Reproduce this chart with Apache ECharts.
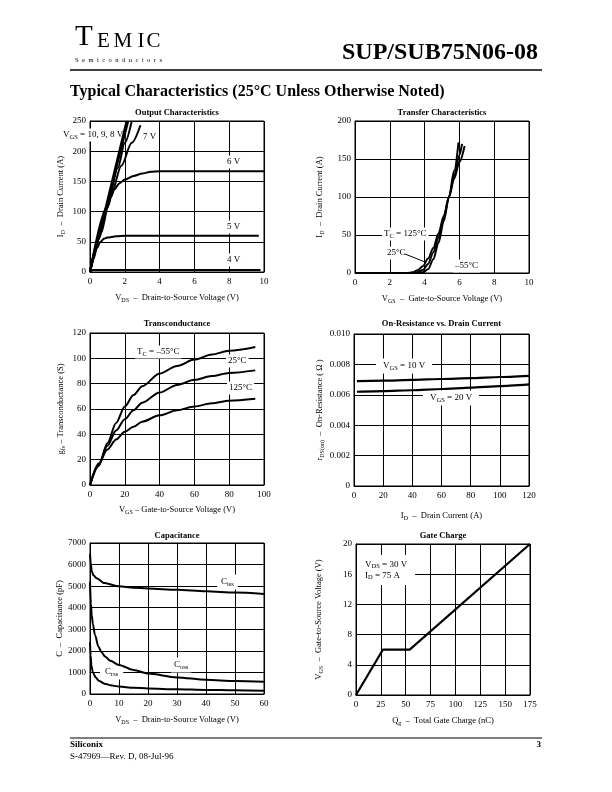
<!DOCTYPE html>
<html><head><meta charset="utf-8">
<script src="https://cdn.jsdelivr.net/npm/echarts@6/dist/echarts.min.js"></script>
<style>html,body{margin:0;padding:0;background:#fff}#c{width:612px;height:792px}</style>
</head><body><div id="c"></div>
<script>
const FONT = '"Liberation Serif","Times New Roman",serif';

// ---- Output Characteristics: [VDS (V), ID (A)]
const out10V = [[0,0],[1,119],[2.1,250]];
const out9V  = [[0,0],[1,114],[2.2,250]];
const out8V  = [[0,0],[1,109],[1.6,172],[2.0,214],[2.4,250]];
const out7V  = [[0,0],[0.6,64],[1.2,126],[1.8,176],[2.4,214],[2.9,243]];
const out6V  = [[0,0],[0.5,54],[1,106],[1.2,124],[1.4,137],[1.7,147],[2,153],[2.5,159],[3,163],[3.5,166],[4,167],[6,167],[8,167],[10,167]];
const out5V  = [[0,0],[0.2,22],[0.4,40],[0.6,50],[0.8,55],[1.0,57],[1.5,59],[2,60],[4,60],[6,60],[8,60],[9.7,60]];
const out4V  = [[0,0],[0.1,3],[0.3,3.5],[5,3.5],[9.8,3.5]];

// ---- Transfer Characteristics: [VGS (V), ID (A)]
const tr125C = [[0,0],[3.0,0],[3.3,1],[3.6,3.5],[3.9,9],[4.2,19],[4.5,33],[4.8,52],[5.1,75],[5.4,100],[5.7,124],[6.0,146],[6.3,167]];
const tr25C  = [[0,0],[3.3,0],[3.6,1],[3.9,4],[4.2,12],[4.5,27],[4.8,47],[5.1,72],[5.4,100],[5.7,128],[6.0,155],[6.15,170]];
const trM55C = [[0,0],[3.6,0],[3.9,1],[4.2,5],[4.5,18],[4.8,40],[5.1,68],[5.4,100],[5.7,135],[5.95,172]];

// ---- Transconductance: [VGS (V), gfs (S)]
const gfsM55C = [[0,0],[5,15],[10,33],[15,49],[20,62],[25,71],[30,78],[40,88],[50,94],[60,99],[70,103],[80,106],[95,109]];
const gfs25C  = [[0,0],[5,16],[10,31],[15,43],[20,52],[25,59],[30,65],[40,73],[50,79],[60,83],[70,86],[80,88.5],[95,90.5]];
const gfs125C = [[0,0],[5,17],[10,28],[15,36],[20,42],[25,46],[30,50],[40,55],[50,59],[60,62],[70,64.5],[80,66.5],[95,68]];

// ---- On-Resistance vs Drain Current: [ID (A), rDS(on) (ohm)]
const ron10V = [[2,0.0069],[20,0.00693],[40,0.00698],[60,0.00704],[80,0.0071],[100,0.00717],[120,0.00725]];
const ron20V = [[2,0.0062],[20,0.00624],[40,0.0063],[60,0.00638],[80,0.00647],[100,0.00657],[120,0.00668]];

// ---- Capacitance: [VDS (V), C (pF)]
const capCiss = [[0,6500],[0.3,6000],[0.6,5700],[1.2,5500],[2.3,5370],[5,5140],[10,4990],[15,4930],[20,4890],[30,4830],[40,4760],[50,4700],[60,4640]];
const capCoss = [[0,5200],[0.3,4200],[0.6,3650],[1,3250],[1.7,2750],[2.9,2200],[4,1930],[5.2,1740],[7,1540],[10,1350],[15,1110],[20,950],[30,770],[40,660],[50,600],[60,570]];
const capCrss = [[0,2400],[0.2,1800],[0.5,1300],[1,1000],[2,760],[3,620],[5,480],[7,410],[10,345],[15,290],[20,255],[30,218],[40,190],[50,170],[60,156]];

// ---- Gate Charge: [Qg (nC), VGS (V)]
const gateCharge = [[0,0],[27,6],[54,6],[175,20]];

// ---- Axis ranges / tick steps
const axes = [
  {x:[0,10,2],   y:[0,250,50]},
  {x:[0,10,2],   y:[0,200,50]},
  {x:[0,100,20], y:[0,120,20]},
  {x:[0,120,20], y:[0,0.010,0.002]},
  {x:[0,60,10],  y:[0,7000,1000]},
  {x:[0,175,25], y:[0,20,4]}
];
const titles = ['Output Characteristics','Transfer Characteristics','Transconductance','On-Resistance vs. Drain Current','Capacitance','Gate Charge'];
const xNames = [
  '{n|V}{s|DS}{n|  –  Drain-to-Source Voltage (V)}',
  '{n|V}{s|GS}{n|  –  Gate-to-Source Voltage (V)}',
  '{n|V}{s|GS}{n| – Gate-to-Source Voltage (V)}',
  '{n|I}{s|D}{n|  –  Drain Current (A)}',
  '{n|V}{s|DS}{n|  –  Drain-to-Source Voltage (V)}',
  '{n|Q}{s|g}{n|  –  Total Gate Charge (nC)}'
];
const yNames = [
  '{n|I}{s|D}{n|  –  Drain Current (A)}',
  '{n|I}{s|D}{n|  –  Drain Current (A)}',
  '{n|g}{s|fs}{n| – Transconductance (S)}',
  '{n|r}{s|DS(on)}{n|  –  On-Resistance ( Ω )}',
  '{n|C  –  Capacitance (pF)}',
  '{n|V}{s|GS}{n|  –  Gate-to-Source Voltage (V)}'
];

// layout
const grids = [
  {left:90,  top:121, width:174, height:151},
  {left:355, top:121, width:174, height:152},
  {left:90,  top:333, width:174, height:152},
  {left:354, top:334, width:175, height:152},
  {left:90,  top:543, width:174, height:151},
  {left:356, top:544, width:174, height:151}
];
const xGaps = [20,20,19,24,20,20];
const yGaps = [24,30,24,29,25,32];

const RICH = {
  n:{fontFamily:FONT, fontSize:8.5, lineHeight:11, color:'#000'},
  s:{fontFamily:FONT, fontSize:6, lineHeight:7, color:'#000', verticalAlign:'bottom'}
};
const RICH9 = {
  n:{fontFamily:FONT, fontSize:9, lineHeight:11, color:'#000'},
  s:{fontFamily:FONT, fontSize:6.5, lineHeight:7, color:'#000', verticalAlign:'bottom'}
};

const black = '#000';
const xAxis = [], yAxis = [];
axes.forEach((a,i)=>{
  const base = {
    type:'value', gridIndex:i,
    axisLine:{show:true, onZero:false, lineStyle:{color:black, width:1}},
    axisTick:{show:false},
    splitLine:{show:true, lineStyle:{color:black, width:1}},
    nameLocation:'middle',
    nameTextStyle:{fontFamily:FONT, fontSize:8.5, color:black, rich:RICH}
  };
  xAxis.push(Object.assign({}, base, {
    min:a.x[0], max:a.x[1], interval:a.x[2], name:xNames[i], nameGap:xGaps[i],
    axisLabel:{color:black, fontFamily:FONT, fontSize:9, margin:5}
  }));
  yAxis.push(Object.assign({}, base, {
    min:a.y[0], max:a.y[1], interval:a.y[2], name:yNames[i], nameGap:yGaps[i], nameRotate:90,
    axisLabel:{color:black, fontFamily:FONT, fontSize:9, margin:4,
      formatter: i===3 ? (v => v===0 ? '0' : v.toFixed(3)) : (v => String(v))}
  }));
});

function line(data, gi, smooth, w) {
  return {type:'line', xAxisIndex:gi, yAxisIndex:gi, data, showSymbol:false, symbol:'none',
    smooth: smooth, smoothMonotone:'x', silent:true, animation:false, clip:true,
    lineStyle:{color:black, width:w||2}};
}
const series = [
  line(out10V,0,false), line(out9V,0,false), line(out8V,0,0.3), line(out7V,0,0.3),
  line(out6V,0,0.3), line(out5V,0,0.3), line(out4V,0,0.2),
  line(tr125C,1,0.3), line(tr25C,1,0.3), line(trM55C,1,0.3),
  line(gfsM55C,2,0.3), line(gfs25C,2,0.3), line(gfs125C,2,0.3),
  line(ron10V,3,0.2,2.2), line(ron20V,3,0.2,2.2),
  line(capCiss,4,0.3), line(capCoss,4,0.3), line(capCrss,4,0.3),
  line(gateCharge,5,false,2.2)
];

// ---- graphic texts
const G = [];
function txt(x, y, text, o) {
  o = o || {};
  G.push({type:'text', x, y, z: o.z || 1, silent:true, style:{
    text, fill:black, font:(o.bold?'bold ':'') + (o.size||9) + 'px ' + FONT,
    align:o.align||'left', verticalAlign:o.va||'middle',
    backgroundColor:o.bg||null, padding:o.pad||0, rich:o.rich
  }});
}
function ann(x, y, text, pad) { txt(x, y, text, {bg:'#fff', pad:pad||[1,2], rich:RICH9}); }

// header
const temic = [['T',75,29],['E',97,21],['M',113.5,21],['I',137.5,21],['C',146.5,21]];
temic.forEach(t => txt(t[1], 52, t[0], {size:t[2], va:'bottom'}));
(function(){
  const ctx = document.createElement('canvas').getContext('2d');
  ctx.font = '6.5px ' + FONT;
  const s = 'Semiconductors';
  let sum = 0; const w = [];
  for (const ch of s) { const m = ctx.measureText(ch).width; w.push(m); sum += m; }
  const sp = (87 - sum) / (s.length - 1);
  let x = 75;
  for (let i=0;i<s.length;i++){ txt(x, 60, s[i], {size:6.5}); x += w[i] + sp; }
})();
txt(538, 53, 'SUP/SUB75N06-08', {size:24, bold:true, align:'right'});
G.push({type:'line', silent:true, shape:{x1:70,y1:70,x2:542,y2:70}, style:{stroke:black, lineWidth:1.5}});
txt(70, 92, 'Typical Characteristics (25°C Unless Otherwise Noted)', {size:16, bold:true});

// chart titles
const tY = [113,113,324,324,536,536];
grids.forEach((g,i)=> txt(g.left + g.width/2, tY[i], titles[i], {size:8.5, bold:true, align:'center'}));

// annotations
ann(61, 135, '{n|V}{s|GS}{n| = 10, 9, 8 V}');
ann(141, 137, '{n|7 V}');
ann(225, 162, '{n|6 V}');
ann(225, 227, '{n|5 V}');
ann(225, 260, '{n|4 V}');

ann(382, 234, '{n|T}{s|C}{n| = 125°C}');
ann(385, 253, '{n|25°C}');
ann(453, 266, '{n|–55°C}');
G.push({type:'line', z:3, silent:true, shape:{x1:405,y1:254,x2:425,y2:262}, style:{stroke:black, lineWidth:1}});

ann(135, 352, '{n|T}{s|C}{n| = –55°C}');
ann(226, 361, '{n|25°C}');
ann(227, 388, '{n|125°C}');

ann(376, 366, '{n|V}{s|GS}{n| = 10 V}', [2,7]);
ann(423, 398, '{n|V}{s|GS}{n| = 20 V}', [2,7]);

ann(217, 582, '{n|C}{s|iss}', [2,4]);
ann(171, 665, '{n|C}{s|oss}', [2,3]);
ann(100, 672, '{n|C}{s|rss}', [2,5]);

txt(357, 570, '{n|V}{s|DS}{n| = 30 V}\n{n|I}{s|D}{n| = 75 A}', {bg:'#fff', pad:[4,8,4,8], rich:RICH9});

// footer
G.push({type:'line', silent:true, shape:{x1:70,y1:738,x2:542,y2:738}, style:{stroke:black, lineWidth:1.2}});
txt(70, 745, 'Siliconix', {size:9, bold:true});
txt(70, 757, 'S-47969—Rev. D, 08-Jul-96', {size:9});
txt(541, 745, '3', {size:9, bold:true, align:'right'});

const chart = echarts.init(document.getElementById('c'), null, {renderer:'canvas'});
chart.setOption({
  animation:false,
  backgroundColor:'#fff',
  grid: grids.map(g => Object.assign({show:true, borderColor:black, borderWidth:1, containLabel:false}, g)),
  xAxis, yAxis, series,
  graphic:{elements:G}
});
</script></body></html>
